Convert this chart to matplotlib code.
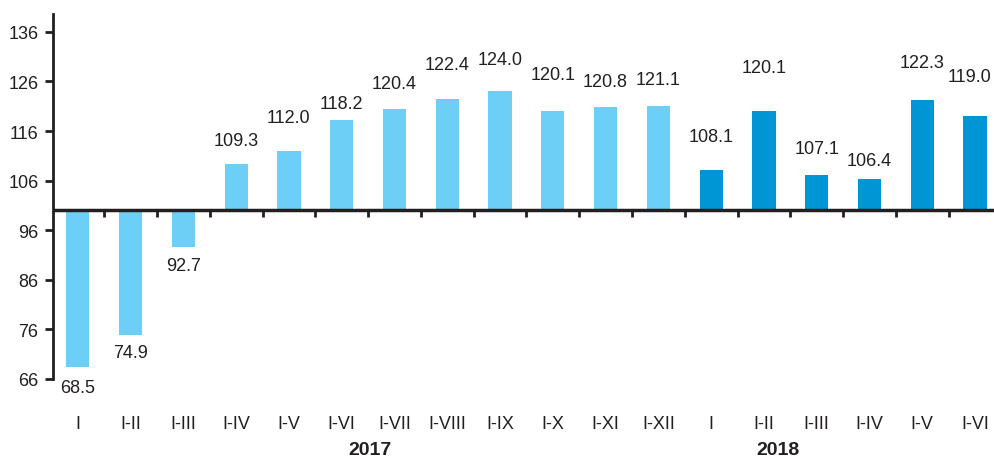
import numpy as np
import matplotlib.pyplot as plt
import matplotlib.transforms as mtransforms

plt.rcParams['font.family'] = ['Liberation Sans', 'DejaVu Sans']
plt.rcParams['font.size'] = 13

periods = ['I', 'I-II', 'I-III', 'I-IV', 'I-V', 'I-VI', 'I-VII', 'I-VIII', 'I-IX',
           'I-X', 'I-XI', 'I-XII', 'I', 'I-II', 'I-III', 'I-IV', 'I-V', 'I-VI']
values = [68.5, 74.9, 92.7, 109.3, 112.0, 118.2, 120.4, 122.4, 124.0,
          120.1, 120.8, 121.1, 108.1, 120.1, 107.1, 106.4, 122.3, 119.0]
years = ['2017', '2018']
year_counts = [12, 6]

base = 100
c2017 = '#6dcff6'
c2018 = '#0096d6'
ink = '#231f20'

# distance (px) between bar end and the centre of its value label, as in the original
label_gap = [19, 16, 17, 26, 35, 19, 28, 37, 34, 38, 28, 28, 36, 45, 29, 20, 39, 42]
year_x = [5.53, 13.26]

fig = plt.figure(figsize=(9.94, 4.6), dpi=100)
ax = fig.add_axes([53/994, 80/460, (994-53)/994, 365/460])

x = np.arange(len(values))
cols = [c2017] * year_counts[0] + [c2018] * year_counts[1]
vals = np.array(values)
ax.bar(x, vals - base, bottom=base, width=0.44, color=cols, zorder=2)

ax.set_xlim(-0.47, len(values) - 1 + 0.36)
ax.set_ylim(66, 139.6)
ax.set_yticks(np.arange(66, 137, 10))
ax.set_xticks([])

for s in ['top', 'right', 'bottom']:
    ax.spines[s].set_visible(False)
ax.spines['left'].set_linewidth(2)
ax.spines['left'].set_color(ink)
ax.tick_params(axis='y', length=5.5, width=2, color=ink, pad=5, labelcolor=ink)

# baseline at 100 and small separators
ax.axhline(base, color=ink, lw=2.5, zorder=3)
ax.vlines(x[:-1] + 0.5, base - 1.3, base, color=ink, lw=2, zorder=3)

for xi, v, g in zip(x, vals, label_gap):
    dy = g * 0.72 if v >= base else -g * 0.72
    dx = -4 if xi == x[-1] else 0   # keep last label inside the figure
    ax.annotate(f'{v:.1f}', (xi, v), xytext=(dx, dy), textcoords='offset points',
                ha='center', va='center_baseline', color=ink)

trans = mtransforms.blended_transform_factory(ax.transData, fig.transFigure)
for xi, lab in zip(x, periods):
    ax.text(xi, 1 - 425/460, lab, transform=trans, ha='center', va='center',
            color=ink, clip_on=False)

for yr, xp in zip(years, year_x):
    ax.text(xp, 1 - 451/460, yr, transform=trans, fontsize=14,
            ha='center', va='center', fontweight='bold', color=ink, clip_on=False)

fig.savefig('out.png', dpi=100)
